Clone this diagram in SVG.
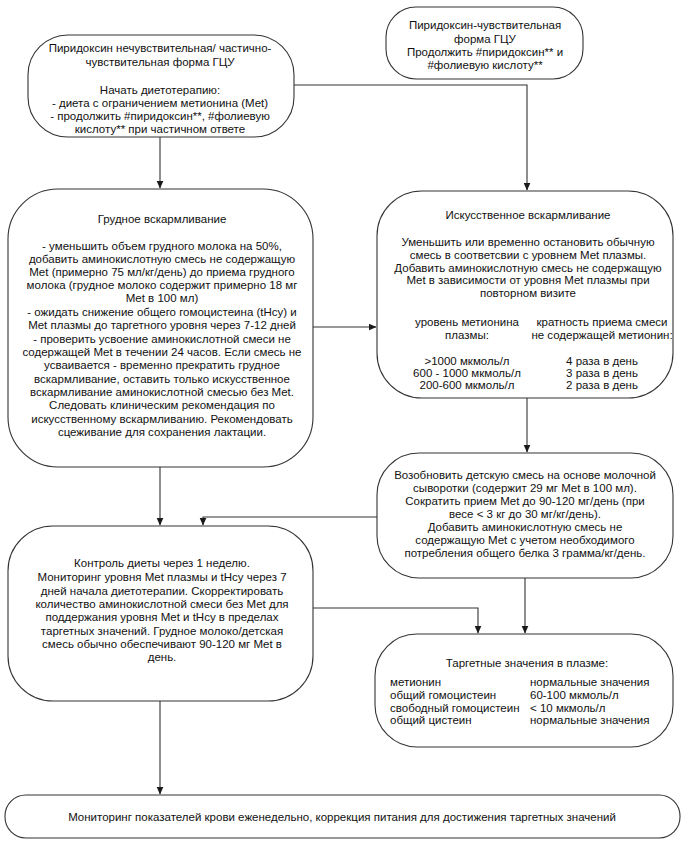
<svg xmlns="http://www.w3.org/2000/svg" width="685" height="842" viewBox="0 0 685 842">
<style>
.n{fill:#fff;stroke:#333;stroke-width:1.1}
.t{font-family:"Liberation Sans",Arial,sans-serif;font-size:11.5px;fill:#111}
.c{text-anchor:middle}
.e{fill:none;stroke:#333;stroke-width:1.1}
</style>
<defs>
<marker id="ah" markerUnits="userSpaceOnUse" markerWidth="8" markerHeight="9" refX="7.5" refY="4" orient="auto" viewBox="0 0 8 8">
<path d="M0,0.5 L8,4 L0,7.5 Z" fill="#1a1a1a"/>
</marker>
</defs>
<rect width="685" height="842" fill="#fff"/>
<g id="connectors">
<path class="e" d="M160,137 V188" marker-end="url(#ah)"/>
<path class="e" d="M294,85 H527 V190" marker-end="url(#ah)"/>
<path class="e" d="M313,327 H376" marker-end="url(#ah)"/>
<path class="e" d="M527,398 V452" marker-end="url(#ah)"/>
<path class="e" d="M377,517 H203 V525" marker-end="url(#ah)"/>
<path class="e" d="M160,467 V525" marker-end="url(#ah)"/>
<path class="e" d="M313,608 H478 V633" marker-end="url(#ah)"/>
<path class="e" d="M525,578 V633" marker-end="url(#ah)"/>
<path class="e" d="M160,701 V794" marker-end="url(#ah)"/>
</g>
<g id="n1">
<rect class="n" x="28" y="35" width="266" height="102" rx="40"/>
<text class="t c" x="160" y="52">Пиридоксин нечувствительная/ частично-<tspan x="160" y="66">чувствительная форма ГЦУ</tspan><tspan x="160" y="94">Начать диетотерапию:</tspan><tspan x="160" y="107">- диета с ограничением метионина (Met)</tspan><tspan x="160" y="120">- продолжить #пиридоксин**, #фолиевую</tspan><tspan x="160" y="133">кислоту** при частичном ответе</tspan></text>
</g>
<g id="n2">
<rect class="n" x="386" y="7" width="197" height="72" rx="30"/>
<text class="t c" x="485" y="29">Пиридоксин-чувствительная<tspan x="485" y="43">форма ГЦУ</tspan><tspan x="485" y="56">Продолжить #пиридоксин** и</tspan><tspan x="485" y="69">#фолиевую кислоту**</tspan></text>
</g>
<g id="n3">
<rect class="n" x="8" y="189" width="305" height="278" rx="50"/>
<text class="t c" x="162" y="223">Грудное вскармливание<tspan x="162" y="250">- уменьшить объем грудного молока на 50%,</tspan><tspan x="162" y="263">добавить аминокислотную смесь не содержащую</tspan><tspan x="162" y="276">Met (примерно 75 мл/кг/день) до приема грудного</tspan><tspan x="162" y="289">молока (грудное молоко содержит примерно 18 мг</tspan><tspan x="162" y="302">Met в 100 мл)</tspan><tspan x="162" y="316">- ожидать снижение общего гомоцистеина (tHcy) и</tspan><tspan x="162" y="329">Met плазмы до таргетного уровня через 7-12 дней</tspan><tspan x="162" y="343">- проверить усвоение аминокислотной смеси не</tspan><tspan x="162" y="356">содержащей Met в течении 24 часов. Если смесь не</tspan><tspan x="162" y="369">усваивается - временно прекратить грудное</tspan><tspan x="162" y="383">вскармливание, оставить только искусственное</tspan><tspan x="162" y="396">вскармливание аминокислотной смесью без Met.</tspan><tspan x="162" y="409">Следовать клиническим рекомендация по</tspan><tspan x="162" y="423">искусственному вскармливанию. Рекомендовать</tspan><tspan x="162" y="436">сцеживание для сохранения лактации.</tspan></text>
</g>
<g id="n4">
<rect class="n" x="377" y="191" width="296" height="207" rx="45"/>
<text class="t c" x="528" y="219">Искусственное вскармливание<tspan x="528" y="246">Уменьшить или временно остановить обычную</tspan><tspan x="528" y="259">смесь в соответсвии с уровнем Met плазмы.</tspan><tspan x="528" y="272">Добавить аминокислотную смесь не содержащую</tspan><tspan x="528" y="284">Met в зависимости от уровня Met плазмы при</tspan><tspan x="528" y="297">повторном визите</tspan></text>
<text class="t c" x="467" y="326">уровень метионина<tspan x="467" y="339">плазмы:</tspan><tspan x="467" y="365">&gt;1000 мкмоль/л</tspan><tspan x="467" y="377">600 - 1000 мкмоль/л</tspan><tspan x="467" y="389">200-600 мкмоль/л</tspan></text>
<text class="t c" x="602" y="326">кратность приема смеси<tspan x="602" y="339">не содержащей метионин:</tspan><tspan x="602" y="365">4 раза в день</tspan><tspan x="602" y="377">3 раза в день</tspan><tspan x="602" y="389">2 раза в день</tspan></text>
</g>
<g id="n5">
<rect class="n" x="377" y="453" width="296" height="125" rx="42"/>
<text class="t c" x="525" y="479">Возобновить детскую смесь на основе молочной<tspan x="525" y="492">сыворотки (содержит 29 мг Met в 100 мл).</tspan><tspan x="525" y="505">Сократить прием Met до 90-120 мг/день (при</tspan><tspan x="525" y="518">весе &lt; 3 кг до 30 мг/кг/день).</tspan><tspan x="525" y="531">Добавить аминокислотную смесь не</tspan><tspan x="525" y="544">содержащую Met с учетом необходимого</tspan><tspan x="525" y="557">потребления общего белка 3 грамма/кг/день.</tspan></text>
</g>
<g id="n6">
<rect class="n" x="8" y="526" width="305" height="175" rx="45"/>
<text class="t c" x="162" y="567">Контроль диеты через 1 неделю.<tspan x="162" y="581">Мониторинг уровня Met плазмы и tHcy через 7</tspan><tspan x="162" y="595">дней начала диетотерапии. Скорректировать</tspan><tspan x="162" y="608">количество аминокислотной смеси без Met для</tspan><tspan x="162" y="621">поддержания уровня Met и tHcy в пределах</tspan><tspan x="162" y="635">таргетных значений. Грудное молоко/детская</tspan><tspan x="162" y="648">смесь обычно обеспечивают 90-120 мг Met в</tspan><tspan x="162" y="661">день.</tspan></text>
</g>
<g id="n7">
<rect class="n" x="375" y="634" width="298" height="113" rx="42"/>
<text class="t c" x="527" y="667">Таргетные значения в плазме:</text>
<text class="t" x="390" y="686">метионин<tspan x="390" y="699">общий гомоцистеин</tspan><tspan x="390" y="712">свободный гомоцистеин</tspan><tspan x="390" y="724">общий цистеин</tspan></text>
<text class="t" x="530" y="686">нормальные значения<tspan x="530" y="699">60-100 мкмоль/л</tspan><tspan x="530" y="712">&lt; 10 мкмоль/л</tspan><tspan x="530" y="724">нормальные значения</tspan></text>
</g>
<g id="n8">
<rect class="n" x="5" y="795" width="675" height="43" rx="21"/>
<text class="t c" x="342" y="821">Мониторинг показателей крови еженедельно, коррекция питания для достижения таргетных значений</text>
</g>
</svg>
